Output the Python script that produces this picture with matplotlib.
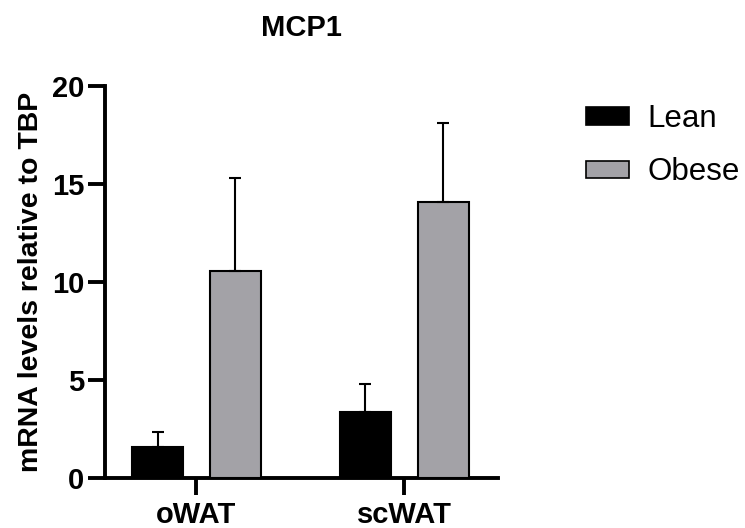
import matplotlib
matplotlib.use("Agg")
import matplotlib.pyplot as plt
import numpy as np

plt.rcParams['font.family'] = ['Liberation Sans', 'DejaVu Sans']

tissues = ['oWAT', 'scWAT']
groups = ['Lean', 'Obese']
lean_mean = [1.55, 3.38]
lean_err = [0.77, 1.41]
obese_mean = [10.56, 14.07]
obese_err = [4.77, 4.08]
yticks = [0, 5, 10, 15, 20]

fig = plt.figure(figsize=(7.45, 5.28), dpi=100)
ax = fig.add_axes([0.141, 0.0953, 0.527, 0.741])

x = np.arange(len(tissues))
w = 0.245
off = 0.187

ax.bar(x - off, lean_mean, w, color='black', edgecolor='black', linewidth=1.5,
       yerr=[np.zeros(2), lean_err], error_kw=dict(ecolor='black', elinewidth=1.5, capsize=4.5, capthick=1.5),
       label=groups[0], zorder=3)
ax.bar(x + off, obese_mean, w, color='#a3a2a7', edgecolor='black', linewidth=1.5,
       yerr=[np.zeros(2), obese_err], error_kw=dict(ecolor='black', elinewidth=1.5, capsize=4.5, capthick=1.5),
       label=groups[1], zorder=3)

ax.set_xlim(-0.44, 1.449)
ax.set_ylim(0, 20)
ax.set_yticks(yticks)
ax.set_xticks(x)
ax.set_xticklabels(tissues, fontsize=21, fontweight='bold')
ax.set_yticklabels([str(t) for t in yticks], fontsize=21, fontweight='bold')
ax.tick_params(axis='both', length=12, width=2.8, pad=3)
ax.tick_params(axis='x', pad=5)

for s in ['top', 'right']:
    ax.spines[s].set_visible(False)
for s in ['left', 'bottom']:
    ax.spines[s].set_linewidth(2.8)

ax.set_ylabel('mRNA levels relative to TBP', fontsize=20.5, fontweight='bold', labelpad=6)
ax.set_title('MCP1', fontsize=21, fontweight='bold', pad=36)

leg = fig.legend(loc='upper left', bbox_to_anchor=(0.787, 0.803), frameon=False,
                 fontsize=22.5, handlelength=1.35, handleheight=0.47, handletextpad=0.6,
                 labelspacing=0.75, borderpad=0, borderaxespad=0)
for h in leg.legend_handles:
    h.set_linewidth(1.2)

fig.savefig('out.png', dpi=100)
